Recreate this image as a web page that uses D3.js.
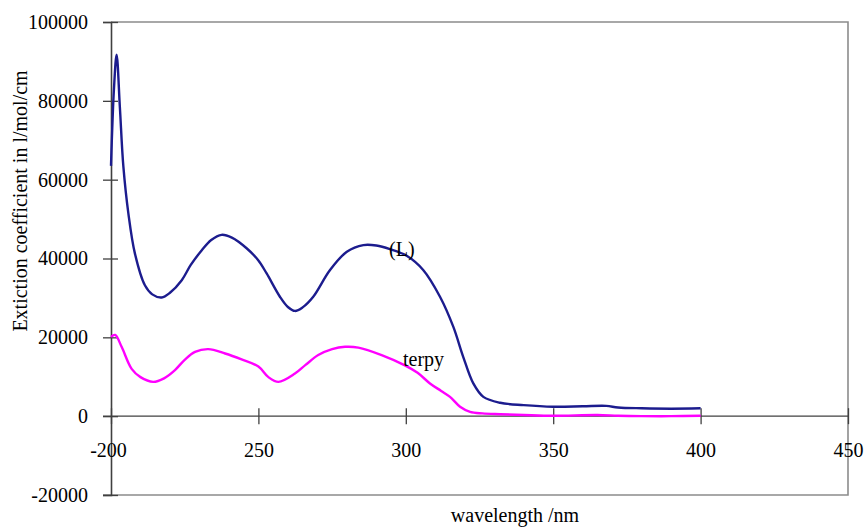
<!DOCTYPE html>
<html>
<head>
<meta charset="utf-8">
<script src="https://cdn.jsdelivr.net/npm/d3@7"></script>
<style>
    body { margin: 0; background: #fff; }
    svg text { font-family: "Liberation Serif", "Times New Roman", serif; fill: #000; }
</style>
</head>
<body>
<script>
(function () {

    //spectrum of the ligand (L), wavelength in nm
    var ligandWave = [200, 201, 201.9, 203, 204.2, 205.9, 208.1, 211.5, 214, 217.2, 220, 224, 227, 230.8, 234, 237.5,
        241, 246, 250, 252.8, 257.3, 260, 262.4, 265, 268.6, 274.3, 280, 285.6, 290, 294.6, 300.3, 305.9,
        311.6, 316.1, 319.5, 322.9, 326.3, 332, 340, 350, 360, 368, 372, 380, 390, 400];
    var ligandEps = [63500, 83000, 91700, 78500, 63300, 51400, 41300, 33200, 30900, 30100, 31300, 34500, 38300, 42100, 44700, 46000,
        45300, 42600, 39500, 36200, 30300, 27700, 26700, 27600, 30300, 37100, 41700, 43400, 43300, 42400, 40700, 37100,
        30300, 22700, 15000, 8300, 4900, 3400, 2800, 2400, 2500, 2600, 2200, 2000, 1900, 2000];

    //spectrum of terpy
    var terpyWave = [200, 201.4, 203.6, 207, 210, 214.3, 218, 221.7, 225, 228.5, 233, 238.7, 244.3, 250, 253.4, 256.8,
        262.4, 266, 270.3, 275, 279.4, 283.9, 291.8, 299.7, 304, 308.2, 312, 315, 318.4, 321.8, 326, 332,
        340, 350, 365, 372, 380, 390, 400];
    var terpyEps = [20100, 20600, 17600, 12000, 9900, 8700, 9600, 11700, 14300, 16300, 17000, 15900, 14400, 12600, 9900, 8700,
        10800, 13000, 15500, 17000, 17600, 17400, 15500, 12900, 11000, 8300, 6400, 4900, 2400, 1100, 700, 500,
        300, 100, 300, 100, 0, 0, 100];

    //axis ticks and labels
    var xTicks = [200, 250, 300, 350, 400, 450];
    var xTickLabels = ["-200", "250", "300", "350", "400", "450"];
    var yTicks = [-20000, 0, 20000, 40000, 60000, 80000, 100000];

    var width = 866,
        height = 527,
        left = 111,
        right = 848,
        top = 22,
        bottom = 495,
        serif = "'Liberation Serif', 'Times New Roman', serif";

    var svg = d3.select("body")
        .append("svg")
        .attr("width", width)
        .attr("height", height);

    var x = d3.scaleLinear()
        .domain([200, 450])
        .range([left, right]);

    var y = d3.scaleLinear()
        .domain([-20000, 100000])
        .range([bottom, top]);

    //gray frame around the plot area
    svg.append("path")
        .attr("d", "M" + left + "," + top + "H" + right + "V" + bottom + "H" + (left - 8))
        .attr("fill", "none")
        .attr("stroke", "#8c8c8c")
        .attr("stroke-width", 1.6);

    //vertical axis
    var yAxis = svg.append("g")
        .attr("transform", "translate(" + left + ",0)")
        .call(d3.axisLeft(y).tickValues(yTicks).tickSize(8)
            .tickFormat(function (d) { return String(d); }));
    yAxis.attr("font-family", serif);
    yAxis.select(".domain").attr("stroke", "#404040").attr("stroke-width", 1.6);
    yAxis.selectAll(".tick line").attr("x1", 7).attr("stroke", "#404040").attr("stroke-width", 1.3);
    yAxis.selectAll(".tick text")
        .style("font-family", serif)
        .style("font-size", "20px")
        .attr("x", -23);

    //horizontal axis sits on zero
    var xAxis = svg.append("g")
        .attr("transform", "translate(0," + y(0) + ")")
        .call(d3.axisBottom(x).tickValues(xTicks).tickSizeOuter(0).tickSize(8)
            .tickFormat(function (d, i) { return xTickLabels[i]; }));
    xAxis.attr("font-family", serif);
    xAxis.select(".domain").attr("d", "M" + (left - 8) + ",0H" + right).attr("stroke", "#404040").attr("stroke-width", 1.3);
    xAxis.selectAll(".tick line").attr("y1", -8).attr("stroke", "#404040").attr("stroke-width", 1.3);
    xAxis.selectAll(".tick text")
        .style("font-family", serif)
        .style("font-size", "20px")
        .attr("y", 27)
        .attr("dx", function (d, i) { return i === 0 ? -3 : 0; });

    var line = d3.line()
        .curve(d3.curveCatmullRom.alpha(0.5));

    svg.append("path")
        .datum(terpyWave.map(function (w, i) { return [x(w), y(terpyEps[i])]; }))
        .attr("d", line)
        .attr("fill", "none")
        .attr("stroke", "#ff00ff")
        .attr("stroke-width", 2.4);

    svg.append("path")
        .datum(ligandWave.map(function (w, i) { return [x(w), y(ligandEps[i])]; }))
        .attr("d", line)
        .attr("fill", "none")
        .attr("stroke", "#1c1c8e")
        .attr("stroke-width", 2.4);

    //curve labels
    svg.append("text")
        .attr("x", 389)
        .attr("y", 256)
        .style("font-size", "20px")
        .text("(L)");

    svg.append("text")
        .attr("x", 403)
        .attr("y", 366)
        .style("font-size", "20px")
        .text("terpy");

    //axis titles
    svg.append("text")
        .attr("transform", "translate(27,201) rotate(-90)")
        .attr("text-anchor", "middle")
        .style("font-size", "20px")
        .text("Extiction coefficient in l/mol/cm");

    svg.append("text")
        .attr("x", 515)
        .attr("y", 522)
        .attr("text-anchor", "middle")
        .style("font-size", "20px")
        .text("wavelength /nm");
})();
</script>
</body>
</html>
